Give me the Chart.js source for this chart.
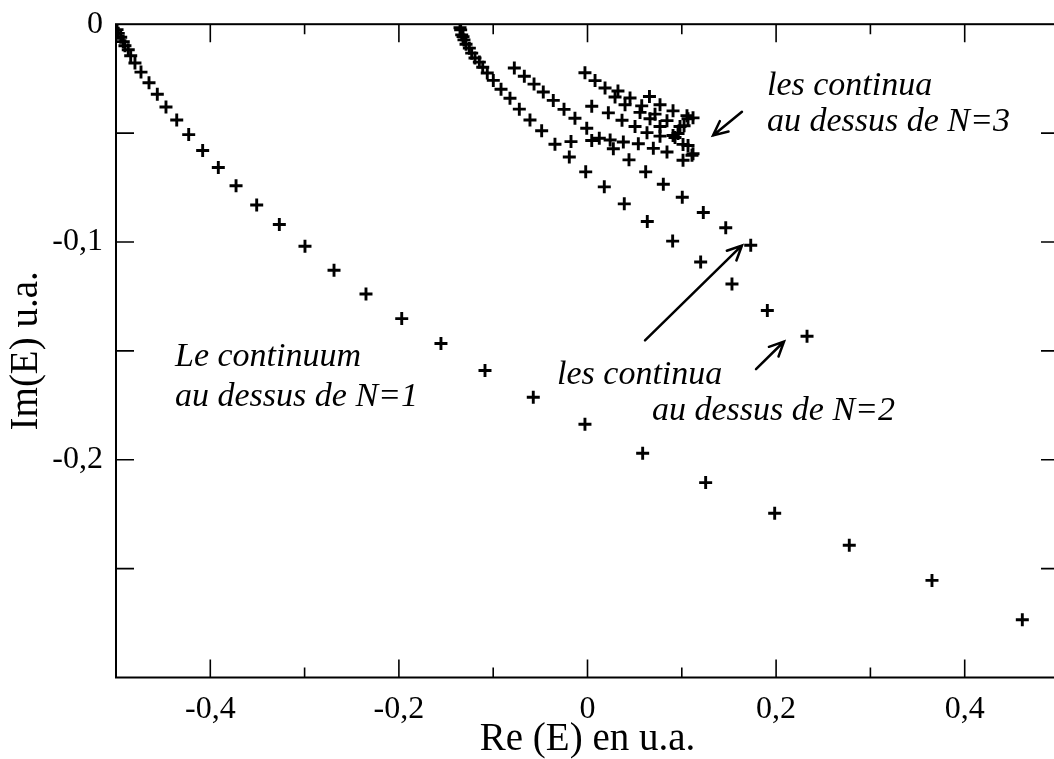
<!DOCTYPE html>
<html>
<head>
<meta charset="utf-8">
<title>Continua</title>
<script src="https://cdn.jsdelivr.net/npm/chart.js@4.4.1/dist/chart.umd.min.js"></script>
<style>
  html, body { margin: 0; padding: 0; background: #fff; overflow: hidden; }
  #wrap { width: 1070px; height: 759px; }
</style>
</head>
<body>
<div id="wrap"><canvas id="c" width="1070" height="759"></canvas></div>
<script>
// continuum au dessus de N=1
var n1Re = [-0.4989, -0.4976, -0.4950, -0.4923, -0.4905, -0.4870, -0.4844, -0.4799, -0.4735, -0.4650, -0.4562,
            -0.4470, -0.4356, -0.4229, -0.4081, -0.3915, -0.3727, -0.3508, -0.3268, -0.2996, -0.2688, -0.2349,
            -0.1970, -0.1554, -0.1087, -0.0575, -0.0027, 0.0585, 0.1253, 0.1985, 0.2776, 0.3653, 0.4611];
var n1Im = [-0.0025, -0.0042, -0.0060, -0.0080, -0.0099, -0.0117, -0.0145, -0.0178, -0.0220, -0.0269, -0.0322,
            -0.0380, -0.0440, -0.0507, -0.0580, -0.0658, -0.0742, -0.0830, -0.0920, -0.1020, -0.1130, -0.1239,
            -0.1352, -0.1466, -0.1590, -0.1713, -0.1837, -0.1970, -0.2105, -0.2246, -0.2393, -0.2554, -0.2735];

// continua au dessus de N=2 (deux branches)
var n2aRe = [-0.1352, -0.1345, -0.1334, -0.1320, -0.1310, -0.1288, -0.1253, -0.1228, -0.1193, -0.1147, -0.1111,
             -0.1063, -0.0999, -0.0917, -0.0822, -0.0723, -0.0610, -0.0486, -0.0345, -0.0193, -0.0019, 0.0178,
             0.0390, 0.0634, 0.0903, 0.1200, 0.1532, 0.1907, 0.2328];
var n2aIm = [-0.0016, -0.0026, -0.0049, -0.0057, -0.0072, -0.0092, -0.0110, -0.0133, -0.0155, -0.0174, -0.0198,
             -0.0224, -0.0258, -0.0299, -0.0340, -0.0390, -0.0440, -0.0489, -0.0551, -0.0610, -0.0678, -0.0747,
             -0.0825, -0.0906, -0.0996, -0.1092, -0.1193, -0.1315, -0.1433];
var n2bRe = [-0.0776, -0.0670, -0.0567, -0.0469, -0.0363, -0.0249, -0.0133, -0.0008, 0.0125, 0.0274, 0.0440,
             0.0617, 0.0804, 0.1005, 0.1228, 0.1466, 0.1731];
var n2bIm = [-0.0201, -0.0239, -0.0275, -0.0311, -0.0350, -0.0391, -0.0432, -0.0478, -0.0524, -0.0572, -0.0623,
             -0.0678, -0.0735, -0.0795, -0.0865, -0.0935, -0.1015];

// continua au dessus de N=3 (amas)
var n3Re = [-0.0027, 0.0080, 0.0186, 0.0292, 0.0398, 0.0557, 0.0663, 0.0769, 0.0907, 0.1013,
            0.0323, 0.0451, 0.0575, 0.0716, 0.0843, 0.0981,
            0.0657, 0.0769, 0.0907, 0.1055, 0.1119,
            0.0045, 0.0221, 0.0366, 0.0504, 0.0631, 0.0769, 0.0928,
            -0.0175, 0.0045, 0.0240, 0.0380, 0.0539, 0.0698, 0.0843, 0.1013, 0.1119,
            0.1066, 0.1024, 0.0960, 0.1066, 0.1108];
var n3Im = [-0.0223, -0.0259, -0.0293, -0.0334, -0.0370, -0.0405, -0.0434, -0.0470, -0.0511, -0.0552,
            -0.0307, -0.0339, -0.0375, -0.0413, -0.0443, -0.0470,
            -0.0332, -0.0370, -0.0398, -0.0420, -0.0430,
            -0.0377, -0.0407, -0.0441, -0.0470, -0.0498, -0.0514, -0.0520,
            -0.0539, -0.0534, -0.0532, -0.0541, -0.0549, -0.0570, -0.0587, -0.0625, -0.0595,
            -0.0434, -0.0466, -0.0502, -0.0557, -0.0602];

// graduations
var xLabelTicks = [-0.4, -0.2, 0, 0.2, 0.4];
var yLabelTicks = [0, -0.1, -0.2];

// textes et fleches (coordonnees en u.a.)
var notes = [
  { text: 'Le continuum', x: -0.4374, y: -0.1570 },
  { text: 'au dessus de N=1', x: -0.4374, y: -0.1752 },
  { text: 'les continua', x: -0.0323, y: -0.1652 },
  { text: 'au dessus de N=2', x: 0.0684, y: -0.1816 },
  { text: 'les continua', x: 0.1903, y: -0.0325 },
  { text: 'au dessus de N=3', x: 0.1903, y: -0.0489 }
];
var arrows = [
  { x1: 0.0610, y1: -0.1452, x2: 0.1638, y2: -0.1016 },
  { x1: 0.1787, y1: -0.1584, x2: 0.2084, y2: -0.1457 },
  { x1: 0.1638, y1: -0.0402, x2: 0.1331, y2: -0.0511 }
];

function toPoints(re, im) {
  return re.map(function(v, i) { return { x: v, y: im[i] }; });
}

function fmt(v, d) {
  var r = Math.round(v * d) / d;
  if (r === 0) return '0';
  return String(r).replace('.', ',');
}

function hasLabel(list, v) {
  return list.some(function(t) { return Math.abs(t - v) < 1e-6; });
}

var serif = "'Liberation Serif', 'Times New Roman', serif";

// cadre complet + graduations vers l'interieur
var cadre = {
  id: 'cadre',
  afterDraw: function(chart) {
    var ctx = chart.ctx, a = chart.chartArea;
    var sx = chart.scales.x, sy = chart.scales.y;
    ctx.save();
    ctx.strokeStyle = '#000';
    ctx.lineWidth = 1.6;
    ctx.beginPath();
    sx.ticks.forEach(function(t) {
      var k = Math.round(t.value * 10);
      if (k <= -5 || k >= 5) return;
      var px = sx.getPixelForValue(t.value);
      var len = (k % 2 === 0) ? 18 : 10;
      ctx.moveTo(px, a.bottom); ctx.lineTo(px, a.bottom - len);
      ctx.moveTo(px, a.top); ctx.lineTo(px, a.top + len);
    });
    sy.ticks.forEach(function(t) {
      var k = Math.round(t.value * 100);
      if (k >= 0 || k <= -30) return;
      var py = sy.getPixelForValue(t.value);
      ctx.moveTo(a.left, py); ctx.lineTo(a.left + 18, py);
      ctx.moveTo(a.right, py); ctx.lineTo(a.right - 18, py);
    });
    ctx.stroke();
    ctx.lineWidth = 2;
    ctx.strokeRect(a.left, a.top, a.right - a.left, a.bottom - a.top);
    ctx.restore();
  }
};

// annotations en italique et fleches
var annotations = {
  id: 'annotations',
  afterDraw: function(chart) {
    var ctx = chart.ctx, sx = chart.scales.x, sy = chart.scales.y;
    ctx.save();
    ctx.fillStyle = '#000';
    ctx.font = 'italic 34px ' + serif;
    ctx.textAlign = 'left';
    ctx.textBaseline = 'alphabetic';
    notes.forEach(function(n) {
      ctx.fillText(n.text, sx.getPixelForValue(n.x), sy.getPixelForValue(n.y));
    });
    ctx.strokeStyle = '#000';
    ctx.lineWidth = 2.5;
    ctx.lineCap = 'round';
    arrows.forEach(function(ar) {
      var x1 = sx.getPixelForValue(ar.x1), y1 = sy.getPixelForValue(ar.y1);
      var x2 = sx.getPixelForValue(ar.x2), y2 = sy.getPixelForValue(ar.y2);
      var ang = Math.atan2(y1 - y2, x1 - x2);
      var head = 16, spread = 0.44;
      ctx.beginPath();
      ctx.moveTo(x1, y1); ctx.lineTo(x2, y2);
      ctx.moveTo(x2 + head * Math.cos(ang + spread), y2 + head * Math.sin(ang + spread));
      ctx.lineTo(x2, y2);
      ctx.lineTo(x2 + head * Math.cos(ang - spread), y2 + head * Math.sin(ang - spread));
      ctx.stroke();
    });
    ctx.restore();
  }
};

function serie(label, re, im) {
  return {
    label: label,
    data: toPoints(re, im),
    showLine: false,
    pointStyle: 'cross',
    pointRadius: 6.5,
    pointBorderWidth: 2.9,
    borderColor: '#000',
    backgroundColor: '#000'
  };
}

new Chart(document.getElementById('c').getContext('2d'), {
  type: 'scatter',
  data: {
    datasets: [
      serie('N=1', n1Re, n1Im),
      serie('N=2 a', n2aRe, n2aIm),
      serie('N=2 b', n2bRe, n2bIm),
      serie('N=3', n3Re, n3Im)
    ]
  },
  options: {
    responsive: false,
    animation: false,
    events: [],
    layout: { padding: { top: 17.5, right: 11, bottom: 0, left: 0 } },
    plugins: { legend: { display: false }, tooltip: { enabled: false } },
    scales: {
      x: {
        type: 'linear',
        min: -0.5, max: 0.5,
        grid: { display: false },
        border: { display: false },
        ticks: {
          stepSize: 0.1,
          autoSkip: false,
          maxRotation: 0,
          padding: 5,
          color: '#000',
          font: { family: serif, size: 32 },
          callback: function(v) { return hasLabel(xLabelTicks, v) ? fmt(v, 10) : ''; }
        },
        title: {
          display: true,
          text: 'Re (E) en u.a.',
          color: '#000',
          font: { family: serif, size: 39, lineHeight: 1 },
          padding: { top: 0, bottom: 0 }
        },
        afterFit: function(s) { s.height = 81.5; }
      },
      y: {
        type: 'linear',
        min: -0.3, max: 0,
        grid: { display: false },
        border: { display: false },
        ticks: {
          stepSize: 0.05,
          autoSkip: false,
          padding: 5,
          color: '#000',
          font: { family: serif, size: 32 },
          callback: function(v) { return hasLabel(yLabelTicks, v) ? fmt(v, 100) : ''; }
        },
        title: {
          display: true,
          text: 'Im(E) u.a.',
          color: '#000',
          font: { family: serif, size: 39, lineHeight: 1 },
          padding: { top: 7, bottom: 0 }
        },
        afterFit: function(s) { s.width = 116; }
      }
    }
  },
  plugins: [cadre, annotations]
});
</script>
</body>
</html>
